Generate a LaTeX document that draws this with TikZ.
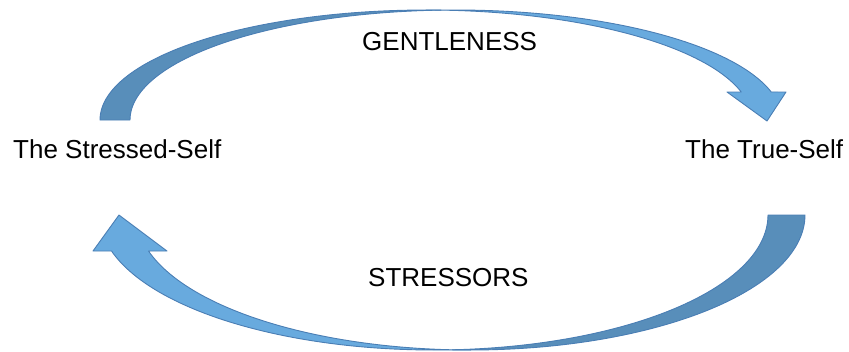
\documentclass[tikz,border=0pt]{standalone}
\usepackage{fontspec}
\setmainfont{Liberation Sans}
\definecolor{lightface}{RGB}{104,170,222}
\definecolor{darkface}{RGB}{88,142,186}
\definecolor{edgecol}{RGB}{74,126,180}
\tikzset{
  lbl/.style={font=\fontsize{26}{30}\selectfont, inner sep=0pt, anchor=base west},
  frontface/.style={fill=lightface, draw=edgecol, line width=0.9pt, line join=round},
  backface/.style={fill=darkface, draw=edgecol, line width=0.9pt, line join=round}
}
\begin{document}
\begin{tikzpicture}[x=1pt,y=-1pt]
\useasboundingbox (0,0) rectangle (849,351);
% ---------- top arrow (GENTLENESS) ----------
% back (dark) face
\path[backface] (100,120)
  -- plot[domain=180:272.64, samples=60] ({426+326*cos(\x)},{120+110*sin(\x)})
  -- plot[domain=267.36:180, samples=60] ({456+326*cos(\x)},{120+110*sin(\x)})
  -- cycle;
% front (light) face with head
\coordinate (tipA) at (767,121);
\coordinate (barbAl) at (727,92);
\coordinate (barbAr) at (786,92);
\path[frontface] (tipA) -- (barbAl) -- (741.2,92)
  -- plot[domain=345.25:270, samples=70] ({426+326*cos(\x)},{120+110*sin(\x)})
  -- plot[domain=270:345.25, samples=70] ({456+326*cos(\x)},{120+110*sin(\x)})
  -- (barbAr) -- cycle;
% ---------- bottom arrow (STRESSORS) ----------
\path[backface] (805,215)
  -- plot[domain=0:93.17, samples=60] ({470.7+334.3*cos(\x)},{215+135*sin(\x)})
  -- plot[domain=86.83:0, samples=60] ({433.7+334.3*cos(\x)},{215+135*sin(\x)})
  -- cycle;
\coordinate (tipB) at (119,215);
\coordinate (barbBr) at (167,251);
\coordinate (barbBl) at (93,251);
\path[frontface] (tipB) -- (barbBr) -- (148.5,251)
  -- plot[domain=164.53:90, samples=70] ({470.7+334.3*cos(\x)},{215+135*sin(\x)})
  -- plot[domain=90:164.53, samples=70] ({433.7+334.3*cos(\x)},{215+135*sin(\x)})
  -- (barbBl) -- cycle;
% ---------- labels ----------
\node[lbl] (stressed) at (13,158) {The Stressed-Self};
\node[lbl] (true) at (685,158) {The True-Self};
\node[lbl] (gentle) at (362,50) {GENTLENESS};
\node[lbl] (stressors) at (368,286.7) {STRESSORS};
\end{tikzpicture}
\end{document}
